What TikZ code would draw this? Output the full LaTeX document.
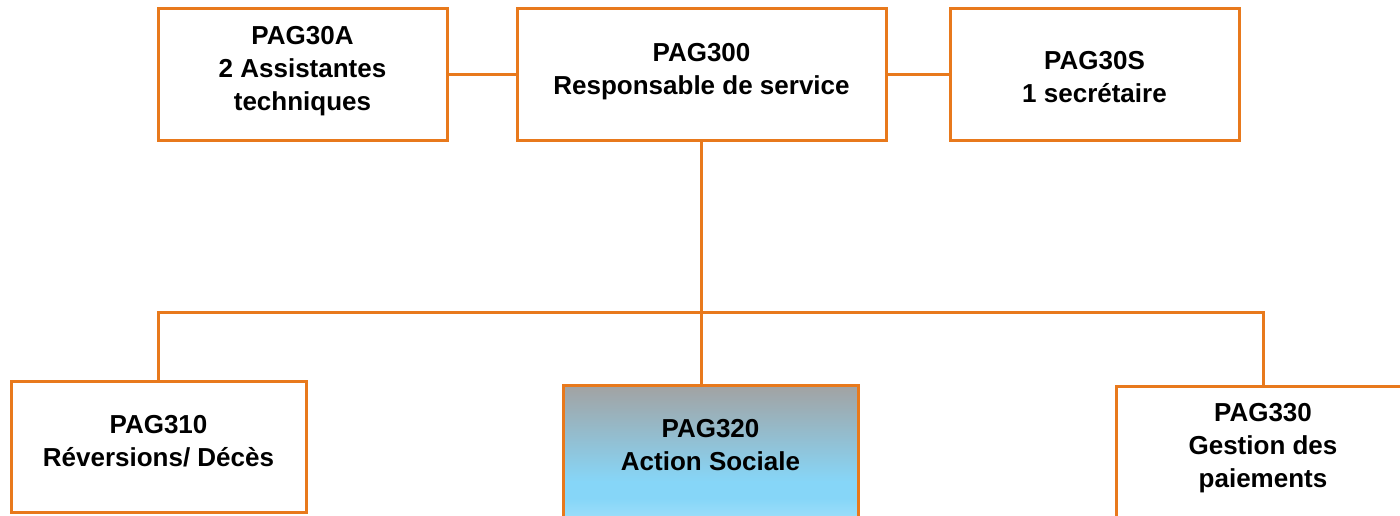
\documentclass[tikz,border=0pt]{standalone}
\usepackage{fontspec}
\setmainfont{Liberation Sans}
\definecolor{org}{HTML}{E8791C}
\definecolor{topgray}{HTML}{A2A2A2}
\definecolor{midblue}{HTML}{86D6F8}
\definecolor{lowblue}{HTML}{A9E3FA}
\begin{document}
\begin{tikzpicture}[x=1pt,y=-1pt,
  box/.style={draw=org,line width=3pt,rectangle,inner sep=0pt},
  lbl/.style={align=center,inner sep=0pt,font=\fontsize{26}{33}\selectfont\bfseries},
  conn/.style={draw=org,line width=3pt}]
\clip (0,0) rectangle (1400,515);
\fill[white] (0,0) rectangle (1400,515);
% gradient fill of PAG320
\shade[top color=topgray,bottom color=midblue] (563,385) rectangle (858,482);
\fill[midblue] (563,481) rectangle (858,499);
\shade[top color=midblue,bottom color=lowblue] (563,498) rectangle (858,530);
% boxes
\node[box,minimum width=289pt,minimum height=132pt] (a30A) at (302.5,74) {};
\node[box,minimum width=369pt,minimum height=132pt] (p300) at (701.5,74) {};
\node[box,minimum width=289pt,minimum height=132pt] (p30S) at (1094.5,74) {};
\node[box,minimum width=295pt,minimum height=131pt] (p310) at (158.5,446.5) {};
\node[box,minimum width=295pt,minimum height=224pt] (p320) at (710.5,497) {};
\node[box,minimum width=294pt,minimum height=224pt] (p330) at (1263,498) {};
% connectors
\coordinate (bus) at (701.5,312);
\draw[conn] (a30A.east) -- (p300.west);
\draw[conn] (p300.east) -- (p30S.west);
\draw[conn] (p300.south) -- (p300.south |- p320.north);
\draw[conn] (p310.north) |- (bus) -| (p330.north);
% labels
\node[lbl] (t30A) at (302.5,71.5) {PAG30A\\2 Assistantes\\techniques};
\node[lbl] (t300) at (701.5,72) {PAG300\\Responsable de service};
\node[lbl] (t30S) at (1094.5,77) {PAG30S\\1 secrétaire};
\node[lbl] (t310) at (158.5,441) {PAG310\\Réversions/ Décès};
\node[lbl] (t320) at (710.5,445) {PAG320\\Action Sociale};
\node[lbl] (t330) at (1263,448) {PAG330\\Gestion des\\paiements};
\end{tikzpicture}
\end{document}
